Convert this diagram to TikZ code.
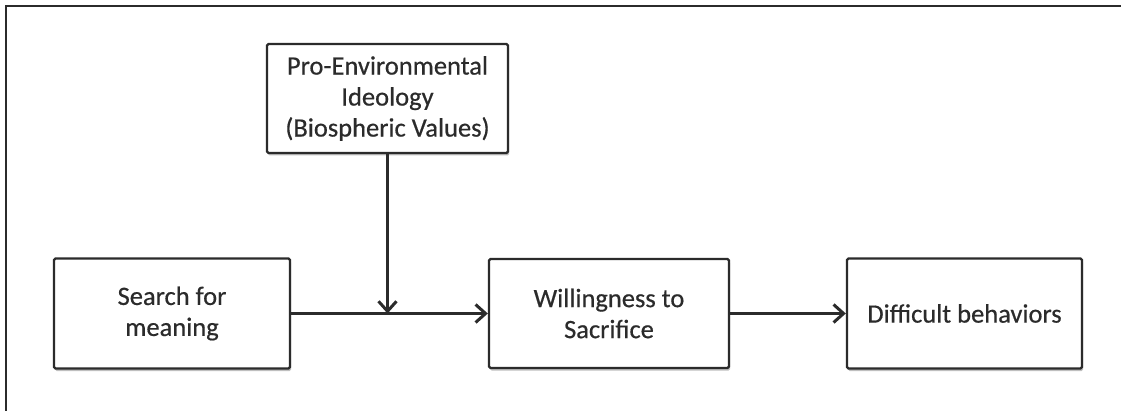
\documentclass[tikz,border=0pt]{standalone}
\usepackage{fontspec}
\setmainfont{Carlito}
\newfontfamily\boxfont{Carlito}[FakeBold=0.5]
\usetikzlibrary{arrows.meta,shadows}
\definecolor{ink}{HTML}{2B2B2B}
\tikzset{
  box/.style={draw=ink, line width=2.4pt, rounded corners=1.5pt, fill=white, align=center,
    font=\boxfont\fontsize{26.5}{31}\selectfont, text=ink,
    drop shadow={shadow xshift=1pt, shadow yshift=-2.5pt, opacity=0.25, fill=black}},
  conn/.style={draw=ink, line width=2.4pt, -{Straight Barb[length=10pt,width=18pt,line width=3pt]}},
  frame/.style={draw=ink, line width=2pt}
}
\begin{document}
\begin{tikzpicture}[x=1pt,y=-1pt]
\useasboundingbox (0,0) rectangle (1121,411);
\coordinate (f1) at (6,411);
\coordinate (f2) at (6,6);
\coordinate (f3) at (1121,6);
\draw[frame] (f1) -- (f2) -- (f3);
\node[box, minimum width=241pt, minimum height=109pt] (top) at (387.5,98.5) {Pro-Environmental\\Ideology\\(Biospheric Values)};
\node[box, minimum width=236pt, minimum height=110pt] (search) at (172,313.5) {Search for\\meaning};
\node[box, minimum width=240pt, minimum height=109pt] (will) at (609,313.5) {Willingness to\\Sacrifice};
\node[box, minimum width=235pt, minimum height=110pt] (diff) at (964.5,313.5) {Difficult behaviors};
\coordinate (j) at (top.south |- search.east);
\draw[conn] (search.east) -- (search.east -| will.west);
\draw[conn] (will.east) -- (will.east -| diff.west);
\draw[conn] (top.south) -- (j);
\end{tikzpicture}
\end{document}
